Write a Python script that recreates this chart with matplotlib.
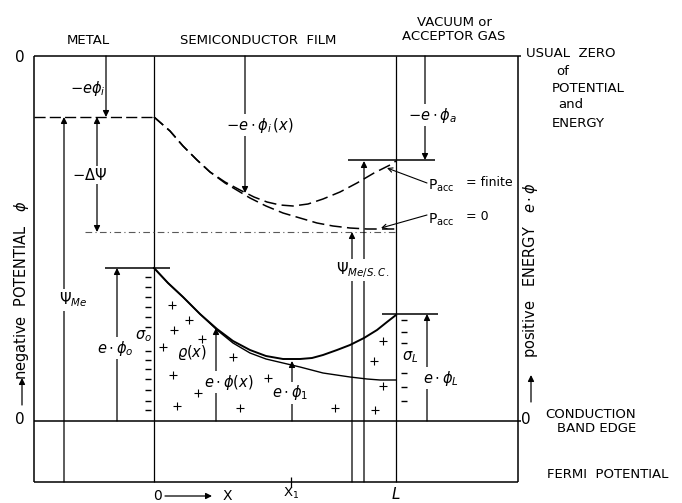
import matplotlib
matplotlib.use("Agg")
import matplotlib.pyplot as plt

plt.rcParams['font.family'] = ['DejaVu Sans']
plt.rcParams['mathtext.fontset'] = 'dejavusans'

# ---- layout (pixel units, y downward) ----
X_BOX = [34, 518]          # outer frame
X_ZERO = 154               # metal / semiconductor boundary (x = 0)
X_ONE = 291                # x1
X_L = 396                  # film thickness L
Y_TOP = 56                 # usual zero of potential
Y_METAL = 117              # metal vacuum/Fermi dashed level
Y_DASHDOT = 232            # reference level
Y_CB = 421                 # conduction band edge (0)
Y_FERMI = 482              # fermi potential

# vacuum level curves (dashed)
vac_fin_x = [154, 170, 183, 197, 210, 225, 240, 254, 267, 280, 293, 308, 323, 340, 357, 374, 390, 396]
vac_fin_y = [117, 131, 146, 160, 172, 182, 190, 197, 202, 205, 206, 204, 199, 192, 183, 173, 165, 161]
vac_zero_x = [154, 170, 183, 197, 210, 225, 240, 250, 266, 283, 300, 317, 333, 350, 367, 383, 396]
vac_zero_y = [117, 131, 146, 160, 172, 183, 192, 198, 206, 213, 218, 223, 226, 228, 229, 229, 229]

# conduction band curves (solid)
cb_fin_x = [154, 168, 183, 200, 217, 233, 250, 266, 283, 300, 312, 323, 337, 350, 364, 377, 387, 396]
cb_fin_y = [268, 283, 297, 314, 329, 341, 350, 356, 359, 359, 358, 355, 350, 345, 338, 330, 322, 315]
cb_zero_x = [154, 168, 183, 200, 217, 233, 250, 266, 283, 300, 323, 350, 367, 380, 396]
cb_zero_y = [268, 283, 297, 314, 330, 343, 353, 359, 363, 367, 373, 377, 379, 380, 380]

# space charge signs
plus_x = [172, 189, 174, 202, 163, 233, 173, 268, 198, 177, 240, 335, 383, 374, 383, 375]
plus_y = [305, 320, 330, 339, 347, 357, 375, 378, 393, 406, 408, 408, 341, 361, 386, 410]
minus_o_y = [277, 287, 297, 307, 317, 327, 351, 360, 369, 379, 390, 401, 410]
minus_L_y = [320, 332, 343, 373, 387, 401]

fig = plt.figure(figsize=(6.82, 5.03), dpi=100)
ax = fig.add_axes([0, 0, 1, 1])
ax.set_xlim(0, 682)
ax.set_ylim(503, 0)
ax.axis('off')

K = 'black'
LW = 1.1
MATH = 10.5


def hline(y, x0, x1, **kw):
    kw.setdefault('lw', LW)
    kw.setdefault('color', K)
    ax.plot([x0, x1], [y, y], solid_capstyle='butt', **kw)


def vline(x, y0, y1, **kw):
    kw.setdefault('lw', LW)
    kw.setdefault('color', K)
    ax.plot([x, x], [y0, y1], solid_capstyle='butt', **kw)


def arrow(x, y_from, y_to, style='-|>', lw=0.9):
    ax.annotate('', xy=(x, y_to), xytext=(x, y_from),
                arrowprops=dict(arrowstyle=style, color=K, lw=lw, mutation_scale=9,
                                shrinkA=0, shrinkB=0))


def label(x, y, s, size=MATH, bg=True, **kw):
    bbox = dict(facecolor='white', edgecolor='none', pad=1.0) if bg else None
    ax.text(x, y, s, fontsize=size, ha='center', va='center', bbox=bbox, zorder=5, **kw)


# frame and levels
hline(Y_TOP, X_BOX[0], X_BOX[1] + 3)
hline(Y_CB, X_BOX[0], X_BOX[1] + 3)
hline(Y_FERMI, X_BOX[0], X_BOX[1])
vline(X_BOX[0], Y_TOP, Y_FERMI)
vline(X_BOX[1], Y_TOP, Y_FERMI)
vline(X_ZERO, Y_TOP, Y_FERMI, lw=0.9)
vline(X_L, Y_TOP, Y_FERMI, lw=0.9)
ax.plot([X_BOX[0], X_ZERO], [Y_METAL, Y_METAL], color=K, lw=1.0, dashes=(8, 3))
ax.plot([85, X_L], [Y_DASHDOT, Y_DASHDOT], color='0.35', lw=0.8, dashes=(6, 3, 1, 3))
vline(X_ONE, 477, 487, lw=0.9)

# curves
ax.plot(vac_fin_x, vac_fin_y, color=K, lw=1.1, dashes=(8, 3.5))
ax.plot(vac_zero_x, vac_zero_y, color=K, lw=1.1, dashes=(8, 3.5))
ax.plot(cb_fin_x, cb_fin_y, color=K, lw=1.4)
ax.plot(cb_zero_x, cb_zero_y, color=K, lw=1.0)

# short level bars
hline(268, 105, 170)
hline(160, 348, 435)
hline(314, 382, 438)

# signs
ax.plot(plus_x, plus_y, ls='none', marker='+', ms=6, mew=0.8, color=K)
ax.plot([148] * len(minus_o_y), minus_o_y, ls='none', marker='_', ms=4, mew=1.0, color=K)
ax.plot([404] * len(minus_L_y), minus_L_y, ls='none', marker='_', ms=4, mew=1.0, color=K)

# arrows
arrow(106, Y_TOP, Y_METAL)
arrow(64, Y_FERMI, Y_METAL)
arrow(97, 175, Y_METAL)
arrow(97, 175, Y_DASHDOT)
arrow(117, Y_CB, 268)
arrow(216, Y_CB, 328)
arrow(X_ONE + 1, Y_CB, 361)
arrow(245, Y_TOP, 193)
arrow(425, Y_TOP, 160)
arrow(352, Y_FERMI, Y_DASHDOT)
arrow(364, Y_FERMI, 161)
arrow(427, Y_CB, 314)
arrow(22, 405, 378)
arrow(531, 402, 375)
ax.annotate('', xy=(212, 496), xytext=(165, 496),
            arrowprops=dict(arrowstyle='-|>', color=K, lw=0.9, mutation_scale=9, shrinkA=0, shrinkB=0))

# P_acc pointers
ax.annotate('', xy=(387, 168), xytext=(427, 183),
            arrowprops=dict(arrowstyle='->', color=K, lw=0.8, mutation_scale=8, shrinkA=0, shrinkB=0))
ax.annotate('', xy=(381, 228), xytext=(427, 215),
            arrowprops=dict(arrowstyle='->', color=K, lw=0.8, mutation_scale=8, shrinkA=0, shrinkB=0))
ax.text(428, 186, r'$\mathrm{P_{acc}}$', fontsize=10, ha='left', va='center')
ax.text(466, 182, '= finite', fontsize=9, ha='left', va='center')
ax.text(428, 220, r'$\mathrm{P_{acc}}$', fontsize=10, ha='left', va='center')
ax.text(466, 216, '= 0', fontsize=9, ha='left', va='center')

# header texts
ax.text(88, 40, 'METAL', fontsize=9.5, ha='center', va='center')
ax.text(258, 40, 'SEMICONDUCTOR  FILM', fontsize=9.5, ha='center', va='center')
ax.text(454, 29, 'VACUUM or\nACCEPTOR GAS', fontsize=9.5, ha='center', va='center', linespacing=1.1)
ax.text(20, 57, '0', fontsize=11, ha='center', va='center')
ax.text(20, 420, '0', fontsize=11, ha='center', va='center')
ax.text(526, 420, '0', fontsize=11, ha='center', va='center')

ax.text(526, 53, 'USUAL  ZERO', fontsize=9.5, ha='left', va='center')
ax.text(563, 71, 'of', fontsize=9.5, ha='center', va='center')
ax.text(552, 88, 'POTENTIAL', fontsize=9.5, ha='left', va='center')
ax.text(558, 104, 'and', fontsize=9.5, ha='left', va='center')
ax.text(552, 123, 'ENERGY', fontsize=9.5, ha='left', va='center')
ax.text(545, 414, 'CONDUCTION', fontsize=9.5, ha='left', va='center')
ax.text(557, 428, 'BAND EDGE', fontsize=9.5, ha='left', va='center')
ax.text(547, 475, 'FERMI  POTENTIAL', fontsize=9.5, ha='left', va='center')

ax.text(22, 290, r'negative  POTENTIAL   $\phi$', fontsize=10.5, rotation=90, ha='center', va='center')
ax.text(531, 270, r'positive   ENERGY   $e\cdot\phi$', fontsize=10.5, rotation=90, ha='center', va='center')

ax.text(157, 496, '0', fontsize=10, ha='center', va='center')
ax.text(227, 496, 'X', fontsize=10, ha='center', va='center')
ax.text(X_ONE, 493, r'$\mathrm{X_1}$', fontsize=9.5, ha='center', va='center')
ax.text(X_L, 494, r'$L$', fontsize=11, ha='center', va='center')

# math labels
label(88, 88, r'$-e\phi_i$', bg=False)
label(90, 175, r'$-\Delta\Psi$')
label(73, 300, r'$\Psi_{Me}$')
label(260, 125, r'$-e\cdot\phi_i\,(x)$')
label(432, 115, r'$-e\cdot\phi_a$')
label(363, 270, r'$\Psi_{Me/S.C.}$')
label(115, 348, r'$e\cdot\phi_o$')
label(144, 336, r'$\sigma_o$', bg=False)
label(192, 353, r'$\varrho(x)$', bg=False)
label(229, 382, r'$e\cdot\phi(x)$')
label(290, 393, r'$e\cdot\phi_1$')
label(410, 357, r'$\sigma_L$', bg=False)
label(441, 378, r'$e\cdot\phi_L$')

fig.savefig('out.png', dpi=100)
